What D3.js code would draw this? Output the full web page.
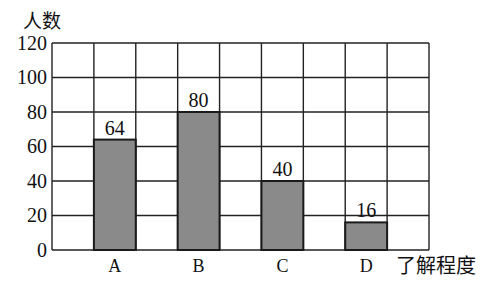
<!DOCTYPE html>
<html>
<head>
<meta charset="utf-8">
<script src="https://cdn.jsdelivr.net/npm/d3@7"></script>
<style>
  body { margin: 0; background: #fff; }
  text { fill: #111; }
</style>
</head>
<body>
<div id="chart"></div>
<script>
var categories = ["A", "B", "C", "D"];
var counts = [64, 80, 40, 16];
var yTicks = [0, 20, 40, 60, 80, 100, 120];
var yTitle = "人数";
var xTitle = "了解程度";

var serif = "'Liberation Serif', 'Times New Roman', serif";
var cjk = "'Noto Sans CJK SC', sans-serif";

var W = 498, H = 281;
var margin = { top: 43, right: 69, bottom: 31, left: 52 },
    width = W - margin.left - margin.right,
    height = H - margin.top - margin.bottom;

var svg = d3.select("#chart")
    .append("svg")
    .attr("width", W)
    .attr("height", H);

var g = svg.append("g")
    .attr("transform", "translate(" + margin.left + "," + margin.top + ")");

// 4 bands, one empty grid column between each and at both ends
var x = d3.scaleBand()
    .domain(categories)
    .range([0, width])
    .padding(0.5);

var y = d3.scaleLinear()
    .domain([0, 120])
    .range([height, 0]);

var col = x.step() / 2;
var nCols = Math.round(width / col);

// grid
var grid = g.append("g")
    .attr("stroke", "#222")
    .attr("stroke-width", 1.4);

grid.selectAll("line.h")
    .data(yTicks)
    .enter()
    .append("line")
    .attr("class", "h")
    .attr("x1", 0)
    .attr("x2", width)
    .attr("y1", function (d) { return y(d); })
    .attr("y2", function (d) { return y(d); });

grid.selectAll("line.v")
    .data(d3.range(nCols + 1))
    .enter()
    .append("line")
    .attr("class", "v")
    .attr("x1", function (i) { return i * col; })
    .attr("x2", function (i) { return i * col; })
    .attr("y1", y(120))
    .attr("y2", y(0));

// bars
g.selectAll("rect.bar")
    .data(counts)
    .enter()
    .append("rect")
    .attr("class", "bar")
    .attr("x", function (d, i) { return x(categories[i]); })
    .attr("y", function (d) { return y(d); })
    .attr("width", x.bandwidth())
    .attr("height", function (d) { return y(0) - y(d); })
    .attr("fill", "#8a8a8a")
    .attr("stroke", "#1a1a1a")
    .attr("stroke-width", 2);

// value labels
g.selectAll("text.val")
    .data(counts)
    .enter()
    .append("text")
    .attr("class", "val")
    .attr("x", function (d, i) { return x(categories[i]) + x.bandwidth() / 2; })
    .attr("y", function (d) { return y(d) - 5; })
    .attr("text-anchor", "middle")
    .attr("font-family", serif)
    .attr("font-size", 20)
    .text(function (d) { return String(d); });

// y tick labels
g.selectAll("text.ytick")
    .data(yTicks)
    .enter()
    .append("text")
    .attr("class", "ytick")
    .attr("x", -5)
    .attr("y", function (d) { return y(d); })
    .attr("dy", "0.33em")
    .attr("text-anchor", "end")
    .attr("font-family", serif)
    .attr("font-size", 20)
    .text(function (d) { return String(d); });

// category labels
g.selectAll("text.cat")
    .data(categories)
    .enter()
    .append("text")
    .attr("class", "cat")
    .attr("x", function (d) { return x(d) + x.bandwidth() / 2; })
    .attr("y", height + 22)
    .attr("text-anchor", "middle")
    .attr("font-family", serif)
    .attr("font-size", 18)
    .text(function (d) { return d; });

// axis titles
svg.append("text")
    .attr("x", 23)
    .attr("y", 28)
    .attr("font-family", cjk)
    .attr("font-size", 19)
    .text(yTitle);

svg.append("text")
    .attr("x", 396)
    .attr("y", 273)
    .attr("font-family", cjk)
    .attr("font-size", 20)
    .text(xTitle);
</script>
</body>
</html>
